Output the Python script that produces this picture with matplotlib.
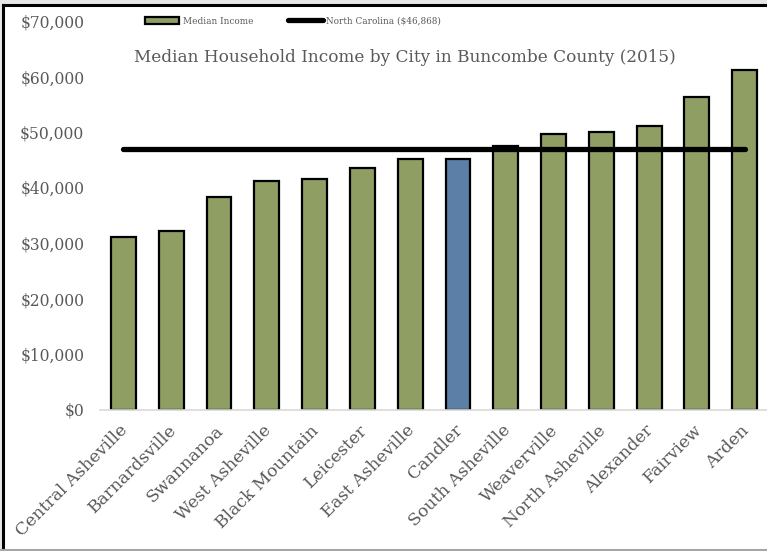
import matplotlib
matplotlib.use("Agg")
import matplotlib.pyplot as plt
from matplotlib.patches import Rectangle
from matplotlib.lines import Line2D
from matplotlib.ticker import FuncFormatter, MultipleLocator
from matplotlib.transforms import ScaledTranslation

cities = ["Central Asheville", "Barnardsville", "Swannanoa", "West Asheville",
          "Black Mountain", "Leicester", "East Asheville", "Candler",
          "South Asheville", "Weaverville", "North Asheville", "Alexander",
          "Fairview", "Arden"]
income = [31100, 32100, 38300, 41100, 41600, 43500, 45100, 45200,
          47450, 49550, 50050, 51100, 56350, 61150]
nc_value = 46868
highlight = "Candler"

title = "Median Household Income by City in Buncombe County (2015)"
series_label = "Median Income"
nc_label = "North Carolina ($46,868)"

W, H = 767, 551
fig = plt.figure(figsize=(W / 100, H / 100), dpi=100)
plt.rcParams['font.family'] = ['DejaVu Serif']

def fx(px):
    return px / W

def fy(py):
    return 1 - py / H

# figure frame
fig.patch.set_facecolor("#e6e6e6")
fig.add_artist(Rectangle((fx(4), fy(549)), fx(767 - 4), fy(5) - fy(549),
                         transform=fig.transFigure, facecolor="white",
                         edgecolor="none", zorder=-10))
fig.add_artist(Line2D([fx(3.5), fx(767)], [fy(5), fy(5)], transform=fig.transFigure,
                      color="black", lw=2.2))
fig.add_artist(Line2D([fx(3.5), fx(3.5)], [fy(5), fy(549)], transform=fig.transFigure,
                      color="black", lw=2.2))
fig.add_artist(Line2D([fx(0), fx(767)], [fy(550), fy(550)], transform=fig.transFigure,
                      color="#a6a6a6", lw=1.5))

left_px, right_px = 99.6, 768.6
bottom_px, top_px = 409.5, 21
ax = fig.add_axes([fx(left_px), fy(bottom_px), fx(right_px - left_px),
                   fy(top_px) - fy(bottom_px)])
ax.set_facecolor("none")

x = list(range(len(cities)))
colors = ["#5b7fa6" if c == highlight else "#8f9e62" for c in cities]
bars = ax.bar(x, income, width=0.52, color=colors, edgecolor="black", linewidth=1.6,
              zorder=2)
line, = ax.plot(x, [nc_value] * len(x), color="black", lw=3.8,
                solid_capstyle="round", zorder=3)

ax.set_xlim(-0.5, len(cities) - 0.5)
ax.set_ylim(0, 70000)
ax.yaxis.set_major_locator(MultipleLocator(10000))
ax.yaxis.set_major_formatter(FuncFormatter(lambda v, p: f"${v:,.0f}"))

for s in ["top", "right", "left"]:
    ax.spines[s].set_visible(False)
ax.spines["bottom"].set_color("#d9d9d9")
ax.spines["bottom"].set_linewidth(1.2)

ax.tick_params(axis="y", length=0, colors="#595959", labelsize=11.2, pad=11)
ax.set_xticks(x)
ax.set_xticklabels(cities, rotation=45, ha="right", rotation_mode="anchor",
                   color="#595959", fontsize=12.4)
ax.tick_params(axis="x", length=0, pad=9)
shift = ScaledTranslation(-4 / 100, 0, fig.dpi_scale_trans)
for lbl in ax.get_xticklabels():
    lbl.set_transform(lbl.get_transform() + shift)

fig.text(fx(405), fy(57), title, ha="center", va="center", color="#595959",
         fontsize=12.2)

leg_patch = Rectangle((0, 0), 1, 1, facecolor="#8f9e62", edgecolor="black",
                      linewidth=1.6)
leg = ax.legend([leg_patch, line], [series_label, nc_label],
                loc="center", bbox_to_anchor=(fx(293), fy(21)),
                bbox_transform=fig.transFigure, ncol=2, frameon=False,
                fontsize=6.4, handlelength=3.9, handleheight=0.8,
                handletextpad=0.4, columnspacing=3.9, labelcolor="#595959")

fig.savefig("out.png", dpi=100)
